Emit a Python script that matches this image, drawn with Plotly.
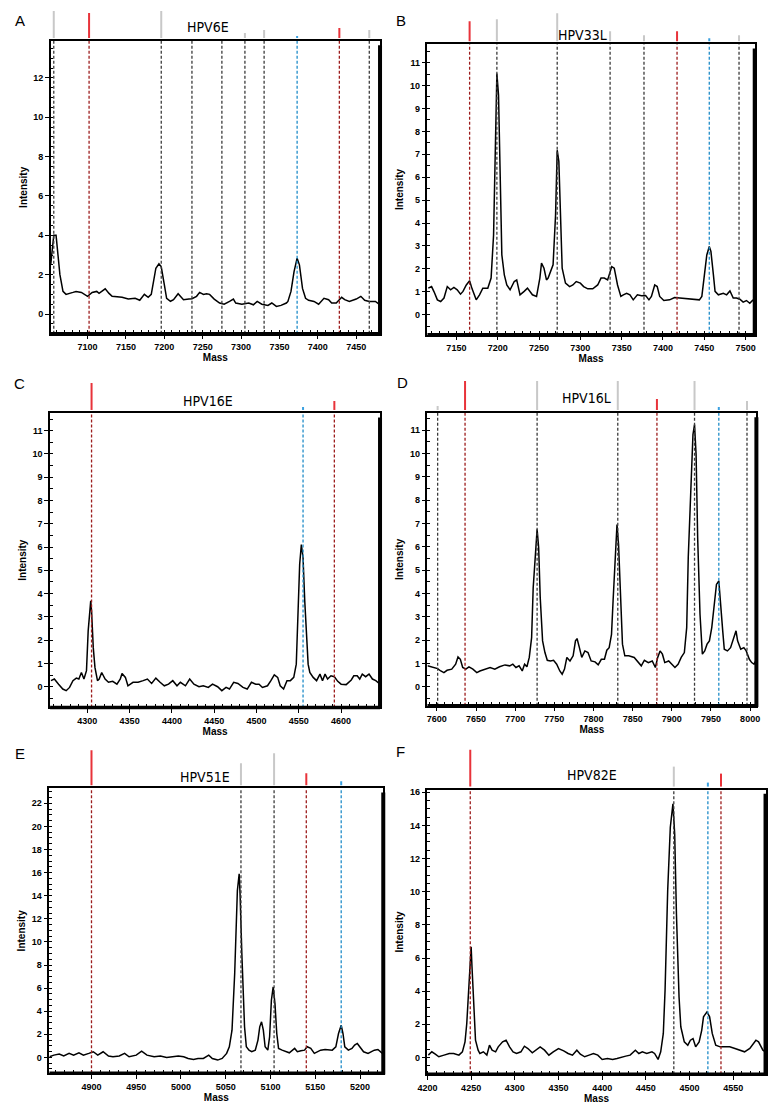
import plotly.graph_objects as go

# ---------------- data ----------------
# Panel A : HPV6E
A_mass = [7052, 7056, 7059, 7064, 7068, 7072, 7081, 7085, 7092, 7100,
          7106, 7112, 7115, 7123, 7128, 7132, 7145, 7153, 7162, 7168,
          7174, 7179, 7183, 7189, 7193, 7196, 7200, 7203, 7208, 7212,
          7218, 7221, 7225, 7232, 7236, 7242, 7246, 7251, 7255, 7259,
          7265, 7272, 7278, 7285, 7290, 7293, 7301, 7310, 7316, 7321,
          7327, 7335, 7340, 7346, 7352, 7359, 7361, 7365, 7369, 7373,
          7376, 7380, 7384, 7388, 7395, 7401, 7408, 7414, 7418, 7424,
          7431, 7435, 7441, 7450, 7456, 7461, 7467, 7475, 7481]
A_int = [2.5, 4.0, 4.0, 2.0, 1.15, 1.0, 1.1, 1.15, 1.1, 0.9,
         1.1, 1.15, 1.05, 1.28, 1.05, 0.9, 0.85, 0.76, 0.8, 0.7,
         1.0, 0.85, 1.0, 2.33, 2.55, 2.4, 1.5, 0.8, 0.65, 0.73,
         1.03, 0.9, 0.73, 0.76, 0.78, 0.9, 1.1, 1.0, 1.03, 1.0,
         0.76, 0.56, 0.5, 0.64, 0.76, 0.56, 0.5, 0.56, 0.47, 0.64,
         0.5, 0.44, 0.56, 0.39, 0.44, 0.56, 0.64, 1.15, 2.16, 2.84,
         2.5, 1.3, 0.8, 0.7, 0.64, 0.5, 0.8, 0.73, 0.56, 0.56,
         0.85, 0.73, 0.64, 0.76, 0.9, 0.7, 0.64, 0.64, 0.47]
A_marks = [7056, 7102, 7196, 7236, 7275, 7305, 7330, 7373, 7428, 7467]
A_kinds = ['g', 'r', 'g', 'g', 'g', 'g', 'g', 'b', 'r', 'g']

# Panel B : HPV33L
B_mass = [7116, 7120, 7123, 7127, 7131, 7135, 7139, 7143, 7147, 7151,
          7155, 7158, 7162, 7166, 7169, 7174, 7178, 7182, 7188, 7192,
          7195, 7197, 7199, 7201, 7203, 7205, 7208, 7211, 7215, 7220,
          7223, 7227, 7232, 7236, 7242, 7247, 7251, 7253, 7256, 7259,
          7261, 7264, 7267, 7270, 7272, 7274, 7276, 7278, 7282, 7287,
          7291, 7295, 7300, 7304, 7309, 7315, 7321, 7325, 7329, 7333,
          7338, 7341, 7345, 7349, 7352, 7356, 7360, 7364, 7369, 7374,
          7379, 7383, 7386, 7390, 7393, 7396, 7401, 7408, 7414, 7420,
          7426, 7432, 7438, 7444, 7447, 7450, 7453, 7456, 7458, 7461,
          7463, 7467, 7473, 7477, 7481, 7485, 7489, 7493, 7497, 7501,
          7505, 7509]
B_int = [1.16, 1.23, 1.0, 0.65, 0.58, 0.73, 1.23, 1.09, 1.19, 1.09,
         0.9, 1.02, 1.3, 1.48, 1.13, 0.65, 0.87, 1.16, 1.16, 1.6,
         3.48, 7.84, 10.52, 9.58, 5.66, 2.61, 1.74, 1.3, 1.09, 1.45,
         1.52, 0.87, 1.02, 1.16, 0.87, 0.8, 1.6, 2.25, 2.03, 1.52,
         1.6, 1.89, 2.18, 4.35, 7.18, 6.68, 3.77, 2.03, 1.38, 1.23,
         1.3, 1.45, 1.38, 1.23, 1.13, 1.13, 1.3, 1.6, 1.6, 1.52,
         2.1, 2.03, 1.3, 0.8, 0.87, 0.94, 0.87, 0.65, 0.87, 0.83,
         0.84, 0.65, 0.8, 1.3, 1.23, 0.8, 0.62, 0.65, 0.75, 0.73,
         0.7, 0.68, 0.65, 0.65, 0.8, 1.6, 2.61, 2.98, 2.76, 1.74,
         1.02, 0.87, 0.94, 0.87, 1.04, 0.73, 0.73, 0.68, 0.55, 0.62,
         0.5, 0.65]
B_marks = [7166, 7199, 7272, 7336, 7377, 7417, 7456, 7492]
B_kinds = ['r', 'g', 'g', 'g', 'g', 'r', 'b', 'g']

# Panel C : HPV16E
C_mass = [4257, 4261, 4266, 4271, 4275, 4279, 4283, 4287, 4290, 4293,
          4296, 4299, 4301, 4304, 4305, 4307, 4309, 4312, 4314, 4317,
          4321, 4325, 4330, 4335, 4339, 4341, 4345, 4348, 4354, 4360,
          4366, 4371, 4376, 4381, 4386, 4391, 4396, 4401, 4406, 4410,
          4416, 4421, 4426, 4432, 4437, 4443, 4448, 4454, 4459, 4464,
          4468, 4473, 4478, 4484, 4489, 4494, 4499, 4503, 4507, 4513,
          4517, 4521, 4525, 4528, 4532, 4536, 4540, 4544, 4547, 4549,
          4551, 4553, 4555, 4557, 4559, 4561, 4563, 4567, 4571, 4575,
          4578, 4581, 4584, 4588, 4592, 4596, 4600, 4606, 4612, 4615,
          4619, 4622, 4625, 4629, 4633, 4637, 4641, 4645]
C_int = [0.26, 0.33, 0.11, -0.1, -0.17, -0.03, 0.26, 0.37, 0.33, 0.61,
         0.33, 0.69, 2.4, 3.69, 3.26, 1.69, 0.83, 0.26, 0.33, 0.61,
         0.33, 0.19, 0.23, 0.11, 0.33, 0.57, 0.4, 0.04, 0.19, 0.19,
         0.26, 0.33, 0.14, 0.37, 0.19, 0.04, 0.11, 0.26, 0.04, 0.19,
         0.04, 0.33, 0.11, 0.0, 0.04, -0.03, 0.11, 0.0, -0.17, -0.03,
         -0.1, 0.19, 0.14, -0.03, -0.1, 0.19, 0.11, 0.11, -0.03, 0.04,
         0.26, 0.51, 0.4, 0.04, -0.1, 0.26, 0.26, 0.4, 0.97, 3.26,
         5.26, 6.11, 5.54, 3.69, 2.11, 0.97, 0.61, 0.4, 0.26, 0.54,
         0.26, 0.54, 0.33, 0.47, 0.43, 0.23, 0.11, 0.09, 0.29, 0.47,
         0.47, 0.33, 0.54, 0.43, 0.54, 0.33, 0.26, 0.14]
C_marks = [4305, 4555, 4592]
C_kinds = ['r', 'b', 'r']

# Panel D : HPV16L
D_mass = [7588, 7593, 7597, 7601, 7605, 7609, 7613, 7619, 7624, 7627,
          7630, 7633, 7637, 7641, 7646, 7651, 7655, 7661, 7668, 7674,
          7680, 7687, 7693, 7697, 7701, 7705, 7709, 7712, 7715, 7718,
          7721, 7723, 7726, 7728, 7730, 7732, 7735, 7738, 7741, 7745,
          7749, 7753, 7757, 7760, 7763, 7766, 7770, 7774, 7777, 7779,
          7782, 7785, 7789, 7793, 7797, 7802, 7806, 7810, 7814, 7817,
          7820, 7823, 7825, 7828, 7830, 7832, 7835, 7837, 7840, 7845,
          7852, 7857, 7861, 7865, 7870, 7875, 7879, 7882, 7885, 7888,
          7891, 7896, 7900, 7904, 7908, 7912, 7916, 7919, 7921, 7924,
          7927, 7929, 7931, 7933, 7936, 7939, 7942, 7945, 7948, 7951,
          7954, 7957, 7960, 7962, 7965, 7967, 7971, 7975, 7979, 7982,
          7984, 7988, 7992, 7995, 7999, 8002, 8005, 8008]
D_int = [0.9, 0.86, 0.83, 0.78, 0.68, 0.61, 0.71, 0.76, 0.97, 1.28,
         1.18, 0.83, 0.76, 0.86, 0.76, 0.61, 0.68, 0.76, 0.83, 0.76,
         0.86, 0.94, 0.9, 0.97, 0.83, 0.9, 0.68, 0.97, 0.86, 1.26,
         2.11, 4.25, 6.1, 6.75, 5.96, 3.82, 1.97, 1.47, 1.14, 1.11,
         1.14, 0.97, 0.68, 0.54, 0.76, 1.26, 1.11, 1.33, 1.97, 2.07,
         1.68, 1.26, 1.54, 1.47, 1.11, 1.07, 0.94, 1.18, 1.18, 1.57,
         1.68, 2.25, 3.68, 5.68, 6.96, 6.1, 3.54, 1.83, 1.33, 1.33,
         1.26, 1.04, 0.9, 1.14, 1.04, 1.11, 0.83, 1.26, 1.54, 1.4,
         1.04, 1.11, 0.97, 0.83, 0.97, 1.26, 1.47, 2.54, 5.54, 8.39,
         10.81, 11.24, 9.96, 6.39, 3.11, 1.4, 1.54, 1.83, 1.97, 2.54,
         3.54, 4.39, 4.54, 3.82, 2.4, 1.61, 1.54, 1.68, 2.11, 2.4,
         1.97, 1.61, 1.68, 1.54, 1.18, 1.04, 0.97, 1.18]
D_marks = [7601, 7636, 7728, 7831, 7881, 7929, 7960, 7996]
D_kinds = ['g', 'r', 'g', 'g', 'r', 'g', 'b', 'g']

# Panel E : HPV51E
E_mass = [4853, 4858, 4864, 4869, 4875, 4880, 4886, 4891, 4897, 4902,
          4907, 4913, 4919, 4924, 4931, 4937, 4942, 4950, 4956, 4962,
          4970, 4977, 4984, 4992, 4997, 5003, 5008, 5014, 5019, 5025,
          5031, 5035, 5041, 5046, 5051, 5054, 5057, 5060, 5063, 5065,
          5066, 5068, 5071, 5073, 5076, 5079, 5083, 5086, 5088, 5090,
          5092, 5094, 5097, 5099, 5101, 5103, 5105, 5107, 5109, 5113,
          5117, 5121, 5127, 5130, 5134, 5138, 5141, 5145, 5149, 5152,
          5156, 5161, 5169, 5173, 5176, 5179, 5181, 5183, 5187, 5191,
          5194, 5197, 5200, 5204, 5209, 5212, 5216, 5220, 5223, 5225]
E_int = [0.06, 0.2, 0.29, 0.12, 0.35, 0.2, 0.4, 0.2, 0.35, 0.49,
         0.2, 0.49, 0.12, 0.06, 0.12, 0.35, 0.06, 0.2, 0.55, 0.2,
         0.06, 0.12, 0.0, 0.06, 0.12, 0.06, -0.09, -0.17, -0.09, -0.09,
         0.2, -0.09, -0.23, -0.09, 0.35, 0.92, 2.36, 7.26, 14.45, 15.9,
         14.17, 8.98, 2.65, 0.92, 0.63, 0.49, 0.63, 1.5, 2.65, 3.08,
         2.36, 0.92, 0.63, 1.79, 4.95, 6.1, 4.66, 2.07, 0.78, 0.63,
         0.49, 0.4, 0.78, 0.49, 0.58, 0.63, 0.92, 0.78, 0.35, 0.49,
         0.63, 0.69, 0.63, 0.92, 2.07, 2.79, 2.07, 0.92, 0.63, 0.78,
         1.07, 1.21, 0.92, 0.49, 0.35, 0.49, 0.63, 0.69, 0.49, 0.35]
E_marks = [4900, 5067, 5104, 5140, 5179]
E_kinds = ['r', 'g', 'g', 'r', 'b']

# Panel F : HPV82E
F_mass = [4201, 4205, 4209, 4213, 4219, 4225, 4230, 4236, 4240, 4243,
          4245, 4247, 4249, 4250, 4251, 4253, 4255, 4258, 4260, 4264,
          4268, 4271, 4274, 4278, 4281, 4286, 4290, 4294, 4298, 4302,
          4307, 4311, 4315, 4320, 4326, 4329, 4334, 4339, 4344, 4350,
          4356, 4361, 4366, 4371, 4375, 4380, 4385, 4390, 4395, 4400,
          4406, 4412, 4417, 4423, 4427, 4432, 4438, 4442, 4446, 4451,
          4457, 4460, 4464, 4467, 4470, 4472, 4475, 4478, 4481, 4483,
          4485, 4488, 4490, 4494, 4498, 4501, 4504, 4507, 4511, 4514,
          4516, 4520, 4523, 4526, 4530, 4535, 4541, 4546, 4552, 4558,
          4563, 4569, 4573, 4576, 4579, 4582, 4584, 4587]
F_int = [0.14, 0.34, 0.2, 0.04, 0.14, 0.24, 0.24, 0.14, 0.34, 0.94,
         2.05, 4.26, 6.06, 6.67, 5.46, 2.65, 1.04, 0.44, 0.24, 0.34,
         0.14, 0.74, 0.44, 0.34, 0.64, 0.94, 1.04, 0.64, 0.34, 0.24,
         0.34, 0.68, 0.54, 0.28, 0.54, 0.64, 0.44, 0.14, 0.34, 0.54,
         0.4, 0.24, 0.14, 0.44, 0.2, 0.04, 0.14, 0.24, 0.14, -0.12,
         -0.06, -0.12, -0.06, 0.04, 0.08, 0.14, 0.44, 0.24, 0.34, 0.24,
         0.34, 0.24, -0.12, 0.34, 1.45, 4.06, 10.08, 13.89, 15.3, 13.49,
         8.67, 3.65, 1.85, 0.94, 0.74, 1.04, 1.14, 0.64, 0.94, 1.65,
         2.45, 2.75, 2.45, 1.45, 0.74, 0.64, 0.64, 0.64, 0.54, 0.44,
         0.34, 0.54, 0.84, 1.04, 0.94, 0.64, 0.44, 0.34]
F_marks = [4249, 4482, 4521, 4536]
F_kinds = ['r', 'g', 'b', 'r']

titles = ['HPV6E', 'HPV33L', 'HPV16E', 'HPV16L', 'HPV51E', 'HPV82E']
letters = ['A', 'B', 'C', 'D', 'E', 'F']

# ---------------- layout config (page pixels) ----------------
PAGE_W, PAGE_H = 782, 1109
OFF = 8                      # default page body margin of the html output
W, H = PAGE_W - OFF, PAGE_H - OFF


def px(x):
    return (x - OFF) / W


def py(y):
    return 1 - (y - OFF) / H


cfg = [
    dict(mass=A_mass, inten=A_int, marks=A_marks, kinds=A_kinds,
         xr=[7052, 7481], yr=[-1.0, 13.88], ydt=2,
         box=(41.3, 39, 376.7, 332.3), tags=[27, 25, 27, 0, 0, 5, 8, 2, 10, 8],
         tpos=(202, 25), lpos=(10, 13)),
    dict(mass=B_mass, inten=B_int, marks=B_marks, kinds=B_kinds,
         xr=[7115, 7511], yr=[-0.87, 11.8], ydt=1,
         box=(425, 42.3, 758.3, 333.3), tags=[20, 22, 28, 10, 6, 10, 3, 6],
         tpos=(583, 33), lpos=(398, 13)),
    dict(mass=C_mass, inten=C_int, marks=C_marks, kinds=C_kinds,
         xr=[4256, 4646], yr=[-0.89, 11.76], ydt=1,
         box=(40.7, 411.7, 376.7, 706.7), tags=[27, 3, 9],
         tpos=(202, 400), lpos=(10, 382)),
    dict(mass=D_mass, inten=D_int, marks=D_marks, kinds=D_kinds,
         xr=[7588, 8008], yr=[-0.81, 11.74], ydt=1,
         box=(425, 411.7, 760, 705), tags=[4, 29, 29, 29, 11, 29, 3, 9],
         tpos=(587, 397), lpos=(400, 381)),
    dict(mass=E_mass, inten=E_int, marks=E_marks, kinds=E_kinds,
         xr=[4853, 5226], yr=[-1.38, 23.3], ydt=2,
         box=(40, 787.7, 380, 1073.3), tags=[35, 22, 32, 12, 4],
         tpos=(198, 776), lpos=(10, 753)),
    dict(mass=F_mass, inten=F_int, marks=F_marks, kinds=F_kinds,
         xr=[4200, 4587], yr=[-1.02, 16.16], ydt=2,
         box=(425, 789, 769.3, 1074.3), tags=[37, 20, 4, 13],
         tpos=(593, 774), lpos=(398, 751)),
]

line_col = {'g': '#3a3a3a', 'r': '#9c1c1c', 'b': '#1f8cc8'}
tag_col = {'g': '#c8c8c8', 'r': '#e8333a', 'b': '#3aa0e0'}

fig = go.Figure()
shapes, annotations = [], []
layout = {}
tickfont = dict(family='Liberation Sans, Arial, sans-serif', size=9, color='black', weight='bold')
axtitlefont = dict(family='Liberation Sans, Arial, sans-serif', size=10, color='black', weight='bold')

for i, c in enumerate(cfg, start=1):
    sfx = '' if i == 1 else str(i)
    xa, ya = 'x' + sfx, 'y' + sfx
    x0, y0, x1, y1 = c['box']
    hpx = y1 - y0
    fig.add_trace(go.Scatter(x=c['mass'], y=c['inten'], mode='lines',
                             line=dict(color='black', width=1.5),
                             xaxis=xa, yaxis=ya, showlegend=False, hoverinfo='x+y'))
    layout['xaxis' + sfx] = dict(
        domain=[px(x0), px(x1)], anchor=ya, range=c['xr'],
        showline=True, mirror=True, linecolor='black', linewidth=1.5,
        ticks='outside', ticklen=4, tickwidth=1.3, tickcolor='black',
        dtick=50, tick0=0, showgrid=False, zeroline=False,
        tickfont=tickfont,
        minor=dict(dtick=10, ticks='inside', ticklen=4, tickwidth=1, tickcolor='black'),
        title=dict(text='Mass', font=axtitlefont, standoff=0))
    layout['yaxis' + sfx] = dict(
        domain=[py(y1), py(y0)], anchor=xa, range=c['yr'],
        showline=True, mirror=True, linecolor='black', linewidth=1.5,
        ticks='outside', ticklen=4, tickwidth=1.3, tickcolor='black',
        dtick=c['ydt'], tick0=0, showgrid=False, zeroline=False,
        tickfont=tickfont,
        minor=dict(dtick=0.5, ticks='inside', ticklen=3, tickwidth=1, tickcolor='black'),
        title=dict(text='Intensity', font=axtitlefont, standoff=4))
    # marker lines + small tags above the frame
    for m, k, tl in zip(c['marks'], c['kinds'], c['tags']):
        shapes.append(dict(type='line', xref=xa, yref=ya + ' domain', x0=m, x1=m, y0=0, y1=1,
                           line=dict(color=line_col[k], width=1.3, dash='3px,2px'), layer='above'))
        if tl > 0:
            shapes.append(dict(type='line', xref=xa, yref=ya + ' domain', x0=m, x1=m,
                               y0=1 + 3 / hpx, y1=1 + (3 + tl) / hpx,
                               line=dict(color=tag_col[k], width=2)))
    # frame shadow (thick right/bottom edges)
    shapes.append(dict(type='line', xref=xa + ' domain', yref=ya + ' domain', x0=1, x1=1,
                       y0=-0.004, y1=0.985, line=dict(color='black', width=4)))
    shapes.append(dict(type='line', xref=xa + ' domain', yref=ya + ' domain', x0=0.0, x1=1,
                       y0=0, y1=0, line=dict(color='black', width=3.5)))
    annotations.append(dict(text=titles[i - 1], x=px(c['tpos'][0]), y=py(c['tpos'][1]),
                            xref='paper', yref='paper', xanchor='center', yanchor='middle',
                            showarrow=False,
                            font=dict(family='Liberation Sans Narrow, DejaVu Sans Condensed, Liberation Sans, Arial',
                                      size=14, color='black')))
    lx, ly = c['lpos']
    if ly - 11 < OFF:
        ly_paper, yanc = 1.0, 'top'
    else:
        ly_paper, yanc = py(ly), 'middle'
    annotations.append(dict(text=letters[i - 1], x=px(lx), y=ly_paper,
                            xref='paper', yref='paper', xanchor='center', yanchor=yanc,
                            showarrow=False,
                            font=dict(family='Liberation Sans, Arial, sans-serif', size=15, color='black')))

fig.update_layout(width=W, height=H, margin=dict(l=0, r=0, t=0, b=0),
                  paper_bgcolor='white', plot_bgcolor='white',
                  shapes=shapes, annotations=annotations, **layout)

fig.write_html('out.html')
